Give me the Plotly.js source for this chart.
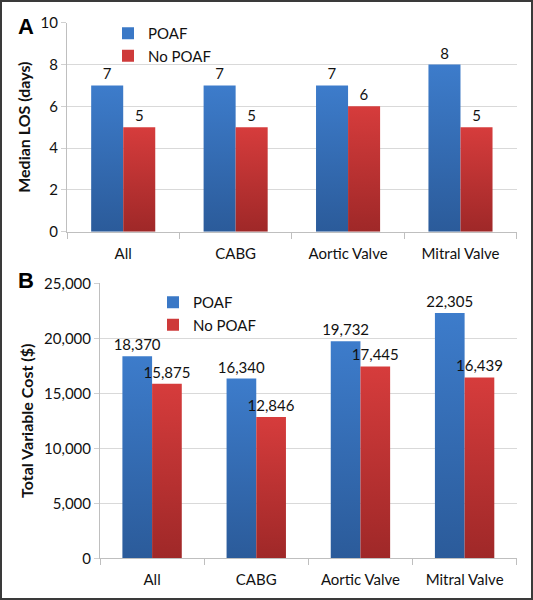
<!DOCTYPE html>
<html><head><meta charset="utf-8">
<script src="https://cdn.plot.ly/plotly-3.0.1.min.js"></script>
<style>
html,body{margin:0;padding:0;background:#fff}
#wrap{position:relative;width:533px;height:600px}
#chart{width:533px;height:600px}
#frame{position:absolute;left:0;top:0;width:533px;height:600px;box-sizing:border-box;border:2px solid #3a3a3a;pointer-events:none}
</style></head><body>
<div id="wrap"><div id="chart"></div><div id="frame"></div></div>
<script>
const categories = ['All', 'CABG', 'Aortic Valve', 'Mitral Valve'];
const seriesNames = ['POAF', 'No POAF'];
const losPOAF = [7, 7, 7, 8];
const losNoPOAF = [5, 5, 6, 5];
const costPOAF = [18370, 16340, 19732, 22305];
const costNoPOAF = [15875, 12846, 17445, 16439];
const panelLabels = ['A', 'B'];
const yTitles = ['Median LOS (days)', 'Total Variable Cost ($)'];
const losTicks = [0, 2, 4, 6, 8, 10];
const costTicks = [0, 5000, 10000, 15000, 20000, 25000];

const BLUE = 'rgb(58, 120, 198)';
const RED = 'rgb(206, 58, 58)';
const FONT = 'Lato, "Liberation Sans", sans-serif';

function barTrace(name, y, color, xa, ya, leg, grp, tmpl) {
  return {
    type: 'bar', name: name, x: categories, y: y,
    xaxis: xa, yaxis: ya, legend: leg, legendgroup: grp,
    marker: {color: color, line: {width: 0}},
    texttemplate: tmpl, textposition: 'outside', cliponaxis: false,
    constraintext: 'none',
    textfont: {family: FONT, size: 15, color: '#111'},
    hoverinfo: 'skip'
  };
}

const data = [
  barTrace(seriesNames[0], losPOAF, BLUE, 'x', 'y', 'legend', 'a1', '%{y}'),
  barTrace(seriesNames[1], losNoPOAF, RED, 'x', 'y', 'legend', 'a2', '%{y}'),
  barTrace(seriesNames[0], costPOAF, BLUE, 'x2', 'y2', 'legend2', 'b1', '%{y:,}'),
  barTrace(seriesNames[1], costNoPOAF, RED, 'x2', 'y2', 'legend2', 'b2', '%{y:,}')
];

const W = 533, H = 600;
function px(x) { return x / W; }
function py(y) { return 1 - y / H; }

const xBase = {
  showline: true, linecolor: '#bfbfbf', linewidth: 1,
  ticks: 'outside', tickson: 'boundaries', ticklen: 6, tickcolor: '#bfbfbf',
  ticklabelstandoff: 8,
  showgrid: false, zeroline: false, fixedrange: true,
  tickfont: {family: FONT, size: 15, color: '#111'}
};
const yBase = {
  showline: true, linecolor: '#bfbfbf', linewidth: 1,
  ticks: 'outside', ticklen: 5, tickcolor: '#d0d0d0',
  showgrid: true, gridcolor: '#d9d9d9', gridwidth: 1,
  zeroline: false, fixedrange: true,
  tickfont: {family: FONT, size: 15, color: '#111'}
};

const legBase = {
  xref: 'paper', yref: 'paper', xanchor: 'left', yanchor: 'top',
  bgcolor: 'rgba(0,0,0,0)', borderwidth: 0, tracegroupgap: 0,
  itemclick: false, itemdoubleclick: false,
  font: {family: FONT, size: 15, color: '#111'}
};

const layout = {
  width: W, height: H,
  margin: {l: 0, r: 0, t: 0, b: 0},
  paper_bgcolor: '#fff', plot_bgcolor: '#fff',
  barmode: 'group', bargap: 0.43, bargroupgap: 0,
  font: {family: FONT, size: 15, color: '#111'},
  showlegend: true,
  xaxis: Object.assign({}, xBase, {domain: [px(67), px(516.7)], anchor: 'y'}),
  yaxis: Object.assign({}, yBase, {
    domain: [py(231.7), py(22.7)], anchor: 'x', range: [0, 10],
    tickvals: losTicks,
    title: {text: yTitles[0], standoff: 5, font: {family: FONT, size: 16, weight: 'bold', color: '#111'}}
  }),
  xaxis2: Object.assign({}, xBase, {domain: [px(100), px(516.7)], anchor: 'y2'}),
  yaxis2: Object.assign({}, yBase, {
    domain: [py(558.3), py(283.3)], anchor: 'x2', range: [0, 25000],
    tickvals: costTicks, tickformat: ',d',
    title: {text: yTitles[1], standoff: 6, font: {family: FONT, size: 16, weight: 'bold', color: '#111'}}
  }),
  legend: Object.assign({}, legBase, {x: px(108), y: py(17)}),
  legend2: Object.assign({}, legBase, {x: px(153), y: py(286)}),
  annotations: [
    {text: '<b>' + panelLabels[0] + '</b>', xref: 'paper', yref: 'paper', x: px(26), y: py(26),
     xanchor: 'center', yanchor: 'middle',
     showarrow: false, font: {family: 'Liberation Sans, Arial, sans-serif', size: 22, color: '#000'}},
    {text: '<b>' + panelLabels[1] + '</b>', xref: 'paper', yref: 'paper', x: px(26), y: py(281),
     xanchor: 'center', yanchor: 'middle',
     showarrow: false, font: {family: 'Liberation Sans, Arial, sans-serif', size: 22, color: '#000'}}
  ]
};

Plotly.newPlot('chart', data, layout, {staticPlot: true, displayModeBar: false}).then(function (gd) {
  const NS = 'http://www.w3.org/2000/svg';
  const defs = gd.querySelector('svg.main-svg defs');
  function grad(id, top, bottom) {
    const g = document.createElementNS(NS, 'linearGradient');
    g.setAttribute('id', id);
    g.setAttribute('x1', '0'); g.setAttribute('y1', '0');
    g.setAttribute('x2', '0'); g.setAttribute('y2', '1');
    const s1 = document.createElementNS(NS, 'stop');
    s1.setAttribute('offset', '0'); s1.setAttribute('stop-color', top);
    const s2 = document.createElementNS(NS, 'stop');
    s2.setAttribute('offset', '1'); s2.setAttribute('stop-color', bottom);
    g.appendChild(s1); g.appendChild(s2);
    defs.appendChild(g);
  }
  grad('gBlue', '#3d7ccb', '#2b5b9a');
  grad('gRed', '#d63c3c', '#9f2828');
  gd.querySelectorAll('g.trace.bars g.point path').forEach(function (p) {
    const f = p.style.fill.replace(/\s/g, '');
    if (f === BLUE.replace(/\s/g, '')) p.style.fill = 'url(#gBlue)';
    else if (f === RED.replace(/\s/g, '')) p.style.fill = 'url(#gRed)';
  });
});
</script>
</body></html>
